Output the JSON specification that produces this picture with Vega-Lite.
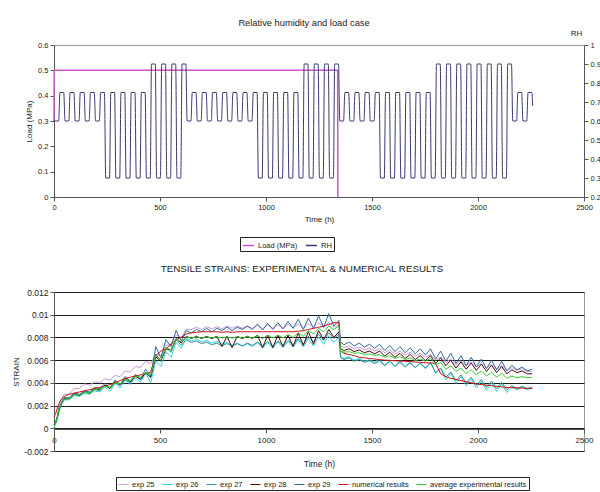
{
  "$schema": "https://vega.github.io/schema/vega-lite/v6.json",
  "background": "white",
  "padding": {"left": 12, "top": 18, "right": 0, "bottom": 0},
  "config": {
    "font": "Liberation Sans",
    "view": {"stroke": "#9a9a9a", "strokeWidth": 1},
    "axis": {"labelFont": "Liberation Sans", "titleFont": "Liberation Sans", "labelColor": "#222", "titleColor": "#222", "domainColor": "#555", "tickColor": "#555", "tickSize": 4, "labelFontSize": 7.5, "titleFontSize": 8, "titleFontWeight": "normal", "grid": false, "labelPadding": 2},
    "legend": {"labelFont": "Liberation Sans", "labelColor": "#222", "labelFontSize": 7.5, "symbolType": "stroke", "symbolSize": 100, "symbolStrokeWidth": 1.5, "fillColor": "white", "strokeColor": "#222", "padding": 2, "direction": "horizontal", "orient": "none", "columnPadding": 5, "labelOffset": 3, "title": null},
    "title": {"font": "Liberation Sans", "fontWeight": "normal", "fontSize": 9.3, "color": "#222"}
  },
  "datasets": {
    "load": [{"t": 0, "load": 0.3}, {"t": 1, "load": 0.5}, {"t": 1338, "load": 0.5}, {"t": 1339, "load": 0}],
    "rh": [
      {"t":0,"rh":0.6},{"t":22,"rh":0.6},{"t":28,"rh":0.75},{"t":46,"rh":0.75},
      {"t":52,"rh":0.6},{"t":70,"rh":0.6},{"t":76,"rh":0.75},{"t":94,"rh":0.75},
      {"t":100,"rh":0.6},{"t":118,"rh":0.6},{"t":124,"rh":0.75},{"t":142,"rh":0.75},
      {"t":148,"rh":0.6},{"t":166,"rh":0.6},{"t":172,"rh":0.75},{"t":190,"rh":0.75},
      {"t":196,"rh":0.6},{"t":214,"rh":0.6},{"t":220,"rh":0.75},{"t":238,"rh":0.75},
      {"t":244,"rh":0.3},{"t":262,"rh":0.3},{"t":268,"rh":0.75},{"t":286,"rh":0.75},
      {"t":292,"rh":0.3},{"t":310,"rh":0.3},{"t":316,"rh":0.75},{"t":334,"rh":0.75},
      {"t":340,"rh":0.3},{"t":358,"rh":0.3},{"t":364,"rh":0.75},{"t":382,"rh":0.75},
      {"t":388,"rh":0.3},{"t":406,"rh":0.3},{"t":412,"rh":0.75},{"t":430,"rh":0.75},
      {"t":436,"rh":0.3},{"t":454,"rh":0.3},{"t":460,"rh":0.9},{"t":478,"rh":0.9},
      {"t":484,"rh":0.3},{"t":502,"rh":0.3},{"t":508,"rh":0.9},{"t":526,"rh":0.9},
      {"t":532,"rh":0.3},{"t":550,"rh":0.3},{"t":556,"rh":0.9},{"t":574,"rh":0.9},
      {"t":580,"rh":0.3},{"t":598,"rh":0.3},{"t":604,"rh":0.9},{"t":622,"rh":0.9},
      {"t":628,"rh":0.6},{"t":646,"rh":0.6},{"t":652,"rh":0.75},{"t":670,"rh":0.75},
      {"t":676,"rh":0.6},{"t":694,"rh":0.6},{"t":700,"rh":0.75},{"t":718,"rh":0.75},
      {"t":724,"rh":0.6},{"t":742,"rh":0.6},{"t":748,"rh":0.75},{"t":766,"rh":0.75},
      {"t":772,"rh":0.6},{"t":790,"rh":0.6},{"t":796,"rh":0.75},{"t":814,"rh":0.75},
      {"t":820,"rh":0.6},{"t":838,"rh":0.6},{"t":844,"rh":0.75},{"t":862,"rh":0.75},
      {"t":868,"rh":0.6},{"t":886,"rh":0.6},{"t":892,"rh":0.75},{"t":910,"rh":0.75},
      {"t":916,"rh":0.6},{"t":934,"rh":0.6},{"t":940,"rh":0.75},{"t":958,"rh":0.75},
      {"t":964,"rh":0.3},{"t":982,"rh":0.3},{"t":988,"rh":0.75},{"t":1006,"rh":0.75},
      {"t":1012,"rh":0.3},{"t":1030,"rh":0.3},{"t":1036,"rh":0.75},{"t":1054,"rh":0.75},
      {"t":1060,"rh":0.3},{"t":1078,"rh":0.3},{"t":1084,"rh":0.75},{"t":1102,"rh":0.75},
      {"t":1108,"rh":0.3},{"t":1126,"rh":0.3},{"t":1132,"rh":0.75},{"t":1150,"rh":0.75},
      {"t":1156,"rh":0.3},{"t":1174,"rh":0.3},{"t":1180,"rh":0.9},{"t":1198,"rh":0.9},
      {"t":1204,"rh":0.3},{"t":1222,"rh":0.3},{"t":1228,"rh":0.9},{"t":1246,"rh":0.9},
      {"t":1252,"rh":0.3},{"t":1270,"rh":0.3},{"t":1276,"rh":0.9},{"t":1294,"rh":0.9},
      {"t":1300,"rh":0.3},{"t":1318,"rh":0.3},{"t":1324,"rh":0.9},{"t":1342,"rh":0.9},
      {"t":1348,"rh":0.6},{"t":1366,"rh":0.6},{"t":1372,"rh":0.75},{"t":1390,"rh":0.75},
      {"t":1396,"rh":0.6},{"t":1414,"rh":0.6},{"t":1420,"rh":0.75},{"t":1438,"rh":0.75},
      {"t":1444,"rh":0.6},{"t":1462,"rh":0.6},{"t":1468,"rh":0.75},{"t":1486,"rh":0.75},
      {"t":1492,"rh":0.6},{"t":1510,"rh":0.6},{"t":1516,"rh":0.75},{"t":1534,"rh":0.75},
      {"t":1540,"rh":0.3},{"t":1558,"rh":0.3},{"t":1564,"rh":0.75},{"t":1582,"rh":0.75},
      {"t":1588,"rh":0.3},{"t":1606,"rh":0.3},{"t":1612,"rh":0.75},{"t":1630,"rh":0.75},
      {"t":1636,"rh":0.3},{"t":1654,"rh":0.3},{"t":1660,"rh":0.75},{"t":1678,"rh":0.75},
      {"t":1684,"rh":0.3},{"t":1702,"rh":0.3},{"t":1708,"rh":0.75},{"t":1726,"rh":0.75},
      {"t":1732,"rh":0.3},{"t":1750,"rh":0.3},{"t":1756,"rh":0.75},{"t":1774,"rh":0.75},
      {"t":1780,"rh":0.3},{"t":1798,"rh":0.3},{"t":1804,"rh":0.9},{"t":1822,"rh":0.9},
      {"t":1828,"rh":0.3},{"t":1846,"rh":0.3},{"t":1852,"rh":0.9},{"t":1870,"rh":0.9},
      {"t":1876,"rh":0.3},{"t":1894,"rh":0.3},{"t":1900,"rh":0.9},{"t":1918,"rh":0.9},
      {"t":1924,"rh":0.3},{"t":1942,"rh":0.3},{"t":1948,"rh":0.9},{"t":1966,"rh":0.9},
      {"t":1972,"rh":0.3},{"t":1990,"rh":0.3},{"t":1996,"rh":0.9},{"t":2014,"rh":0.9},
      {"t":2020,"rh":0.3},{"t":2038,"rh":0.3},{"t":2044,"rh":0.9},{"t":2062,"rh":0.9},
      {"t":2068,"rh":0.3},{"t":2086,"rh":0.3},{"t":2092,"rh":0.9},{"t":2110,"rh":0.9},
      {"t":2116,"rh":0.3},{"t":2134,"rh":0.3},{"t":2140,"rh":0.9},{"t":2158,"rh":0.9},
      {"t":2164,"rh":0.6},{"t":2182,"rh":0.6},{"t":2188,"rh":0.75},{"t":2206,"rh":0.75},
      {"t":2212,"rh":0.6},{"t":2230,"rh":0.6},{"t":2236,"rh":0.75},{"t":2254,"rh":0.75},
      {"t":2258,"rh":0.68}
    ],
    "strain": [
      {"t":0,"e25":0.0002,"e26":0.0002,"e27":0.0003,"e28":0.0003,"e29":0.0003,"num":0.001,"avg":0},
      {"t":8,"e25":0.0006,"e26":0.0004,"e27":0.0005,"e28":0.0005,"e29":0.0005,"num":0.0013,"avg":0.0005},
      {"t":16,"e25":0.0012,"e26":0.0008,"e27":0.0009,"e28":0.001,"e29":0.001,"num":0.0018,"avg":0.001},
      {"t":24,"e25":0.002,"e26":0.0015,"e27":0.0016,"e28":0.0017,"e29":0.0018,"num":0.0022,"avg":0.0017},
      {"t":36,"e25":0.0026,"e26":0.0021,"e27":0.0022,"e28":0.0022,"e29":0.0023,"num":0.0026,"avg":0.0022},
      {"t":48,"e25":0.003,"e26":0.0025,"e27":0.0026,"e28":0.0026,"e29":0.0027,"num":0.0028,"avg":0.00255},
      {"t":72,"e25":0.003,"e26":0.0025,"e27":0.0026,"e28":0.0026,"e29":0.0027,"num":0.003,"avg":0.00265},
      {"t":96,"e25":0.0035,"e26":0.0029,"e27":0.003,"e28":0.003,"e29":0.0031,"num":0.0031,"avg":0.00295},
      {"t":120,"e25":0.0035,"e26":0.0028,"e27":0.0029,"e28":0.0029,"e29":0.003,"num":0.0032,"avg":0.00295},
      {"t":144,"e25":0.0039,"e26":0.0031,"e27":0.0032,"e28":0.0032,"e29":0.0033,"num":0.0033,"avg":0.00315},
      {"t":168,"e25":0.0038,"e26":0.003,"e27":0.0031,"e28":0.0031,"e29":0.0032,"num":0.0034,"avg":0.00315},
      {"t":192,"e25":0.0041,"e26":0.0033,"e27":0.0034,"e28":0.0035,"e29":0.0036,"num":0.0035,"avg":0.00345},
      {"t":216,"e25":0.004,"e26":0.0032,"e27":0.0033,"e28":0.0034,"e29":0.0035,"num":0.0036,"avg":0.00345},
      {"t":240,"e25":0.00435,"e26":0.00365,"e27":0.0038,"e28":0.0038,"e29":0.00395,"num":0.0037,"avg":0.0037},
      {"t":264,"e25":0.00425,"e26":0.00325,"e27":0.0035,"e28":0.0035,"e29":0.00355,"num":0.00385,"avg":0.0036},
      {"t":288,"e25":0.00465,"e26":0.00395,"e27":0.004,"e28":0.0041,"e29":0.00425,"num":0.004,"avg":0.004},
      {"t":312,"e25":0.00455,"e26":0.00355,"e27":0.0038,"e28":0.0038,"e29":0.00385,"num":0.0042,"avg":0.0039},
      {"t":336,"e25":0.00505,"e26":0.00425,"e27":0.0043,"e28":0.0044,"e29":0.00455,"num":0.0044,"avg":0.0043},
      {"t":360,"e25":0.00495,"e26":0.00385,"e27":0.004,"e28":0.0041,"e29":0.00415,"num":0.0045,"avg":0.0042},
      {"t":384,"e25":0.00545,"e26":0.00445,"e27":0.0046,"e28":0.0046,"e29":0.00475,"num":0.0046,"avg":0.0046},
      {"t":408,"e25":0.00535,"e26":0.00405,"e27":0.0043,"e28":0.0043,"e29":0.00435,"num":0.0047,"avg":0.0045},
      {"t":432,"e25":0.0059,"e26":0.00485,"e27":0.0049,"e28":0.0049,"e29":0.0052,"num":0.0048,"avg":0.0049},
      {"t":456,"e25":0.0057,"e26":0.004,"e27":0.0045,"e28":0.0045,"e29":0.0046,"num":0.00495,"avg":0.0047},
      {"t":480,"e25":0.0065,"e26":0.00595,"e27":0.0065,"e28":0.0063,"e29":0.0072,"num":0.0064,"avg":0.0064},
      {"t":504,"e25":0.0064,"e26":0.00545,"e27":0.006,"e28":0.0059,"e29":0.0062,"num":0.0068,"avg":0.006},
      {"t":528,"e25":0.0073,"e26":0.00675,"e27":0.0071,"e28":0.007,"e29":0.0078,"num":0.007,"avg":0.0071},
      {"t":552,"e25":0.0074,"e26":0.00625,"e27":0.0067,"e28":0.0069,"e29":0.0072,"num":0.0074,"avg":0.0069},
      {"t":576,"e25":0.0082,"e26":0.00755,"e27":0.0078,"e28":0.0079,"e29":0.0086,"num":0.0078,"avg":0.0079},
      {"t":600,"e25":0.008,"e26":0.00705,"e27":0.0073,"e28":0.0075,"e29":0.0077,"num":0.008,"avg":0.0076},
      {"t":624,"e25":0.0087,"e26":0.0079,"e27":0.0078,"e28":0.0081,"e29":0.0086,"num":0.0083,"avg":0.00805},
      {"t":648,"e25":0.0087,"e26":0.0077,"e27":0.00755,"e28":0.0079,"e29":0.0084,"num":0.0084,"avg":0.00795},
      {"t":672,"e25":0.0089,"e26":0.00785,"e27":0.0077,"e28":0.0081,"e29":0.0087,"num":0.00845,"avg":0.00805},
      {"t":696,"e25":0.0087,"e26":0.0076,"e27":0.00745,"e28":0.0079,"e29":0.0085,"num":0.0085,"avg":0.00795},
      {"t":720,"e25":0.00895,"e26":0.00775,"e27":0.0076,"e28":0.0081,"e29":0.0088,"num":0.0085,"avg":0.00805},
      {"t":744,"e25":0.00875,"e26":0.0075,"e27":0.00735,"e28":0.0079,"e29":0.0085,"num":0.0085,"avg":0.00795},
      {"t":768,"e25":0.00895,"e26":0.00765,"e27":0.0075,"e28":0.0081,"e29":0.0088,"num":0.0085,"avg":0.00805},
      {"t":792,"e25":0.00875,"e26":0.0074,"e27":0.00725,"e28":0.0072,"e29":0.0086,"num":0.00845,"avg":0.00795},
      {"t":816,"e25":0.009,"e26":0.00755,"e27":0.00745,"e28":0.0081,"e29":0.0089,"num":0.0085,"avg":0.00805},
      {"t":840,"e25":0.0088,"e26":0.0073,"e27":0.00725,"e28":0.0071,"e29":0.0086,"num":0.00845,"avg":0.00795},
      {"t":864,"e25":0.009,"e26":0.0075,"e27":0.00745,"e28":0.0081,"e29":0.0089,"num":0.0085,"avg":0.00805},
      {"t":888,"e25":0.0088,"e26":0.00725,"e27":0.00725,"e28":0.0079,"e29":0.0087,"num":0.0085,"avg":0.00795},
      {"t":912,"e25":0.009,"e26":0.00745,"e27":0.0075,"e28":0.0081,"e29":0.009,"num":0.0085,"avg":0.00805},
      {"t":936,"e25":0.0088,"e26":0.0072,"e27":0.0073,"e28":0.0079,"e29":0.0087,"num":0.0085,"avg":0.00795},
      {"t":960,"e25":0.00905,"e26":0.00755,"e27":0.0076,"e28":0.0082,"e29":0.0092,"num":0.0085,"avg":0.00815},
      {"t":984,"e25":0.00875,"e26":0.00705,"e27":0.0072,"e28":0.0071,"e29":0.00865,"num":0.0085,"avg":0.0079},
      {"t":1008,"e25":0.0091,"e26":0.00755,"e27":0.00765,"e28":0.0082,"e29":0.00925,"num":0.0085,"avg":0.0082},
      {"t":1032,"e25":0.0088,"e26":0.00705,"e27":0.00725,"e28":0.0071,"e29":0.0087,"num":0.0085,"avg":0.00795},
      {"t":1056,"e25":0.0091,"e26":0.0076,"e27":0.0077,"e28":0.0082,"e29":0.0093,"num":0.0085,"avg":0.0082},
      {"t":1080,"e25":0.0088,"e26":0.0071,"e27":0.0073,"e28":0.0072,"e29":0.00875,"num":0.0085,"avg":0.00795},
      {"t":1104,"e25":0.00915,"e26":0.00765,"e27":0.00775,"e28":0.0082,"e29":0.0094,"num":0.0085,"avg":0.00825},
      {"t":1128,"e25":0.00885,"e26":0.00715,"e27":0.00735,"e28":0.0072,"e29":0.0088,"num":0.0085,"avg":0.008},
      {"t":1152,"e25":0.0092,"e26":0.0078,"e27":0.0079,"e28":0.0084,"e29":0.0096,"num":0.00855,"avg":0.0084},
      {"t":1176,"e25":0.0088,"e26":0.00715,"e27":0.0074,"e28":0.0073,"e29":0.0087,"num":0.0086,"avg":0.0081},
      {"t":1200,"e25":0.00925,"e26":0.0079,"e27":0.0081,"e28":0.0085,"e29":0.0097,"num":0.0087,"avg":0.0086},
      {"t":1224,"e25":0.00885,"e26":0.00725,"e27":0.0076,"e28":0.0074,"e29":0.0088,"num":0.0088,"avg":0.0083},
      {"t":1248,"e25":0.0093,"e26":0.00805,"e27":0.0083,"e28":0.0086,"e29":0.0099,"num":0.0089,"avg":0.0088},
      {"t":1272,"e25":0.0089,"e26":0.0074,"e27":0.00775,"e28":0.0078,"e29":0.0089,"num":0.009,"avg":0.0085},
      {"t":1296,"e25":0.0093,"e26":0.00815,"e27":0.0084,"e28":0.0087,"e29":0.0101,"num":0.00915,"avg":0.009},
      {"t":1320,"e25":0.0089,"e26":0.00755,"e27":0.0079,"e28":0.008,"e29":0.009,"num":0.0093,"avg":0.0087},
      {"t":1344,"e25":0.0091,"e26":0.008,"e27":0.0083,"e28":0.0085,"e29":0.0095,"num":0.0093,"avg":0.009},
      {"t":1352,"e25":0.0073,"e26":0.0063,"e27":0.0062,"e28":0.007,"e29":0.0076,"num":0.0068,"avg":0.0068},
      {"t":1368,"e25":0.0071,"e26":0.00615,"e27":0.00605,"e28":0.00685,"e29":0.00735,"num":0.0066,"avg":0.0067},
      {"t":1392,"e25":0.00725,"e26":0.0063,"e27":0.0062,"e28":0.007,"e29":0.0076,"num":0.0065,"avg":0.00675},
      {"t":1416,"e25":0.007,"e26":0.006,"e27":0.0059,"e28":0.00675,"e29":0.00725,"num":0.0064,"avg":0.0066},
      {"t":1440,"e25":0.00715,"e26":0.00615,"e27":0.00605,"e28":0.0069,"e29":0.0075,"num":0.00625,"avg":0.00665},
      {"t":1464,"e25":0.0069,"e26":0.0059,"e27":0.0058,"e28":0.00665,"e29":0.00715,"num":0.0062,"avg":0.0065},
      {"t":1488,"e25":0.00705,"e26":0.00605,"e27":0.00595,"e28":0.0068,"e29":0.0074,"num":0.00615,"avg":0.00655},
      {"t":1512,"e25":0.0068,"e26":0.0058,"e27":0.0057,"e28":0.00655,"e29":0.00705,"num":0.0061,"avg":0.0064},
      {"t":1536,"e25":0.007,"e26":0.0061,"e27":0.00595,"e28":0.0068,"e29":0.0074,"num":0.00605,"avg":0.0065},
      {"t":1560,"e25":0.00665,"e26":0.00555,"e27":0.0055,"e28":0.00635,"e29":0.00685,"num":0.006,"avg":0.00625},
      {"t":1584,"e25":0.0069,"e26":0.006,"e27":0.0059,"e28":0.0067,"e29":0.0073,"num":0.00598,"avg":0.0064},
      {"t":1608,"e25":0.00655,"e26":0.00545,"e27":0.00545,"e28":0.00625,"e29":0.00675,"num":0.00595,"avg":0.00615},
      {"t":1632,"e25":0.0068,"e26":0.00595,"e27":0.0058,"e28":0.0066,"e29":0.0072,"num":0.00592,"avg":0.0063},
      {"t":1656,"e25":0.00645,"e26":0.0054,"e27":0.0054,"e28":0.00615,"e29":0.00665,"num":0.0059,"avg":0.00605},
      {"t":1680,"e25":0.0067,"e26":0.00585,"e27":0.00575,"e28":0.0065,"e29":0.0071,"num":0.00587,"avg":0.0062},
      {"t":1704,"e25":0.00635,"e26":0.00535,"e27":0.00535,"e28":0.00605,"e29":0.00655,"num":0.00584,"avg":0.00595},
      {"t":1728,"e25":0.0066,"e26":0.0058,"e27":0.0057,"e28":0.0064,"e29":0.007,"num":0.0058,"avg":0.0061},
      {"t":1752,"e25":0.00625,"e26":0.00525,"e27":0.0053,"e28":0.00595,"e29":0.00645,"num":0.00577,"avg":0.0059},
      {"t":1776,"e25":0.0065,"e26":0.00585,"e27":0.00575,"e28":0.0064,"e29":0.007,"num":0.00575,"avg":0.00615},
      {"t":1800,"e25":0.006,"e26":0.00485,"e27":0.0049,"e28":0.0057,"e29":0.0061,"num":0.0057,"avg":0.0056},
      {"t":1824,"e25":0.0063,"e26":0.00525,"e27":0.0053,"e28":0.0062,"e29":0.0068,"num":0.0048,"avg":0.0058},
      {"t":1848,"e25":0.0058,"e26":0.00425,"e27":0.0045,"e28":0.0055,"e29":0.0059,"num":0.00455,"avg":0.0052},
      {"t":1872,"e25":0.0061,"e26":0.00485,"e27":0.00495,"e28":0.006,"e29":0.0066,"num":0.0044,"avg":0.0055},
      {"t":1896,"e25":0.0056,"e26":0.00395,"e27":0.0042,"e28":0.0053,"e29":0.0057,"num":0.0043,"avg":0.005},
      {"t":1920,"e25":0.00595,"e26":0.00455,"e27":0.0047,"e28":0.00585,"e29":0.0064,"num":0.0042,"avg":0.0053},
      {"t":1944,"e25":0.0055,"e26":0.00375,"e27":0.004,"e28":0.0052,"e29":0.0055,"num":0.0041,"avg":0.0048},
      {"t":1968,"e25":0.00585,"e26":0.00435,"e27":0.0045,"e28":0.00575,"e29":0.00625,"num":0.004,"avg":0.00515},
      {"t":1992,"e25":0.0054,"e26":0.00355,"e27":0.0038,"e28":0.0051,"e29":0.0054,"num":0.0039,"avg":0.0047},
      {"t":2016,"e25":0.00575,"e26":0.00415,"e27":0.0043,"e28":0.00565,"e29":0.0061,"num":0.00385,"avg":0.00505},
      {"t":2040,"e25":0.0053,"e26":0.00335,"e27":0.0036,"e28":0.005,"e29":0.00525,"num":0.0038,"avg":0.0046},
      {"t":2064,"e25":0.00565,"e26":0.004,"e27":0.00415,"e28":0.00555,"e29":0.006,"num":0.00375,"avg":0.00495},
      {"t":2088,"e25":0.0052,"e26":0.00325,"e27":0.0035,"e28":0.0049,"e29":0.00515,"num":0.0037,"avg":0.0045},
      {"t":2112,"e25":0.00555,"e26":0.0039,"e27":0.00405,"e28":0.00545,"e29":0.0059,"num":0.00365,"avg":0.00485},
      {"t":2136,"e25":0.0051,"e26":0.00315,"e27":0.0034,"e28":0.0048,"e29":0.00505,"num":0.0036,"avg":0.0044},
      {"t":2160,"e25":0.00535,"e26":0.0036,"e27":0.00375,"e28":0.00515,"e29":0.00555,"num":0.00358,"avg":0.0046},
      {"t":2184,"e25":0.0051,"e26":0.0034,"e27":0.0035,"e28":0.0049,"e29":0.00515,"num":0.00356,"avg":0.00445},
      {"t":2208,"e25":0.00525,"e26":0.0036,"e27":0.0037,"e28":0.00505,"e29":0.0054,"num":0.00354,"avg":0.00455},
      {"t":2232,"e25":0.005,"e26":0.0034,"e27":0.0035,"e28":0.0048,"e29":0.00505,"num":0.00352,"avg":0.00445},
      {"t":2256,"e25":0.005,"e26":0.00355,"e27":0.0036,"e28":0.0048,"e29":0.0052,"num":0.0035,"avg":0.0045}
    ]
  },
  "bounds": "flush",
  "spacing": 95,
  "vconcat": [
    {
      "width": 530,
      "height": 152,
      "title": {"text": "Relative humidity and load case", "dx": -15, "offset": 1},
      "layer": [
        {
          "data": {"name": "load"},
          "mark": {"type": "line", "strokeWidth": 1.5},
          "encoding": {
            "x": {"field": "t", "type": "quantitative", "scale": {"domain": [0, 2500], "nice": false}, "axis": {"title": "Time (h)", "values": [0, 500, 1000, 1500, 2000, 2500], "labelExpr": "'' + datum.value", "labelFlush": false, "titlePadding": 5}},
            "y": {"field": "load", "type": "quantitative", "scale": {"domain": [0, 0.6], "nice": false}, "axis": {"title": "Load (MPa)", "values": [0, 0.1, 0.2, 0.3, 0.4, 0.5, 0.6], "labelExpr": "'' + datum.value", "titlePadding": 4}},
            "color": {"datum": "Load (MPa)", "type": "nominal", "scale": {"domain": ["Load (MPa)", "RH"], "range": ["#cc55cc", "#3a3a70"]}, "legend": {"legendX": 186, "legendY": 192, "labelFontSize": 7.5, "symbolSize": 120}}
          }
        },
        {
          "data": {"name": "rh"},
          "mark": {"type": "line", "strokeWidth": 1, "interpolate": "monotone"},
          "encoding": {
            "x": {"field": "t", "type": "quantitative"},
            "y": {"field": "rh", "type": "quantitative", "scale": {"domain": [0.2, 1], "nice": false}, "axis": {"orient": "right", "title": "RH", "titleAngle": 0, "titleX": -8, "titleY": -12, "titleAlign": "center", "titleBaseline": "middle", "values": [0.2, 0.3, 0.4, 0.5, 0.6, 0.7, 0.8, 0.9, 1], "labelExpr": "'' + datum.value"}},
            "color": {"datum": "RH", "type": "nominal"}
          }
        }
      ],
      "resolve": {"scale": {"y": "independent"}}
    },
    {
      "width": 530,
      "height": 159,
      "title": {"text": "TENSILE STRAINS: EXPERIMENTAL & NUMERICAL RESULTS", "dx": -17, "offset": 14, "fontSize": 9.8},
      "data": {"name": "strain"},
      "transform": [{"fold": ["e25", "e26", "e27", "e28", "e29", "num", "avg"], "as": ["series", "strain"]}],
      "mark": {"type": "line"},
      "encoding": {
        "x": {"field": "t", "type": "quantitative", "scale": {"domain": [0, 2500], "nice": false}, "axis": {"title": "Time (h)", "values": [0, 500, 1000, 1500, 2000, 2500], "labelExpr": "'' + datum.value", "labelFlush": false, "offset": -22, "labelPadding": 3, "titlePadding": 15, "labelFontSize": 8, "titleFontSize": 8.5}},
        "y": {"field": "strain", "type": "quantitative", "scale": {"domain": [-0.002, 0.012], "nice": false}, "axis": {"title": "STRAIN", "values": [-0.002, 0, 0.002, 0.004, 0.006, 0.008, 0.01, 0.012], "labelExpr": "'' + datum.value", "grid": true, "gridColor": "#1a1a1a", "gridWidth": 1, "labelFontSize": 8.5, "titlePadding": 3}},
        "color": {"field": "series", "type": "nominal", "scale": {"domain": ["e25", "e26", "e27", "e28", "e29", "num", "avg"], "range": ["#c89ad6", "#2ad4e0", "#3a8f8f", "#4a0a0a", "#2f6c9e", "#d01010", "#33cc33"]}, "legend": {"legendX": 62, "legendY": 185, "labelExpr": "datum.label == 'num' ? 'numerical results' : datum.label == 'avg' ? 'average experimental results' : 'exp ' + slice(datum.label, 1)"}},
        "strokeWidth": {"field": "series", "type": "nominal", "scale": {"domain": ["e25", "e26", "e27", "e28", "e29", "num", "avg"], "range": [1, 1, 1, 1, 1, 1.6, 1.6]}, "legend": null}
      }
    }
  ],
  "resolve": {"scale": {"color": "independent", "x": "independent", "y": "independent", "strokeWidth": "independent"}, "legend": {"color": "independent"}}
}
